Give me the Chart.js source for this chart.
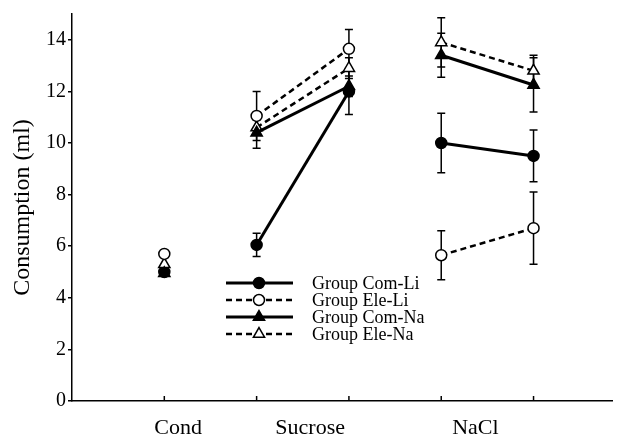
<!DOCTYPE html>
<html>
<head>
<meta charset="utf-8">
<script src="https://cdn.jsdelivr.net/npm/chart.js@4.4.0/dist/chart.umd.min.js"></script>
<style>
  html, body { margin: 0; padding: 0; background: #fff; }
  #wrap { width: 622px; height: 444px; }
</style>
</head>
<body>
<div id="wrap"><canvas id="consumptionChart"></canvas></div>
<script>
// DATA
const positions = [1, 2, 3, 4, 5];
const phaseOf = [0, 1, 1, 2, 2];   // which phase each position belongs to
const groupLabels = ['Cond', 'Sucrose', 'NaCl'];
const groupCenters = [1.15, 2.58, 4.37];
const yTicks = [0, 2, 4, 6, 8, 10, 12, 14];
const seriesNames = ['Group Com-Li', 'Group Ele-Li', 'Group Com-Na', 'Group Ele-Na'];

const comLi = [5.0, 6.05, 12.0, 10.0, 9.5];
const comLiErr = [0, 0.45, 0.9, 1.15, 1.0];
const eleLi = [5.7, 11.05, 13.65, 5.65, 6.7];
const eleLiErr = [0, 0.95, 0.75, 0.95, 1.4];
const comNa = [4.95, 10.4, 12.2, 13.4, 12.25];
const comNaErr = [0, 0.6, 0.4, 0.85, 1.05];
const eleNa = [5.3, 10.6, 12.9, 13.9, 12.8];
const eleNaErr = [0, 0.3, 0.4, 0.95, 0.6];

const serif = 'Liberation Serif';

const toPoints = (vals) => vals.map((v, i) => ({ x: positions[i], y: v }));

const makeSet = (name, vals, errs, style, filled, dashed, order) => ({
    label: name,
    data: toPoints(vals),
    errors: errs,
    order: order,
    borderColor: '#000',
    borderWidth: dashed ? 2.5 : 3,
    borderDash: dashed ? [6, 4] : [],
    pointStyle: style,
    pointRadius: style === 'triangle' ? 6.5 : 5.5,
    pointBorderWidth: 1.5,
    pointBorderColor: '#000',
    pointBackgroundColor: filled ? '#000' : '#fff',
    tension: 0,
    // no line between different phases
    segment: {
        borderColor: c => phaseOf[c.p0DataIndex] !== phaseOf[c.p1DataIndex] ? 'rgba(0,0,0,0)' : undefined
    }
});

// error bars under the markers
const errorBars = {
    id: 'errorBars',
    beforeDatasetsDraw(chart) {
        const { ctx, scales: { x, y } } = chart;
        ctx.save();
        ctx.strokeStyle = '#000';
        ctx.lineWidth = 1.5;
        chart.data.datasets.forEach(ds => {
            ds.data.forEach((p, i) => {
                const e = ds.errors[i];
                if (!e) return;
                const px = x.getPixelForValue(p.x);
                const top = y.getPixelForValue(p.y + e);
                const bot = y.getPixelForValue(p.y - e);
                ctx.beginPath();
                ctx.moveTo(px, top); ctx.lineTo(px, bot);
                ctx.moveTo(px - 4, top); ctx.lineTo(px + 4, top);
                ctx.moveTo(px - 4, bot); ctx.lineTo(px + 4, bot);
                ctx.stroke();
            });
        });
        ctx.restore();
    }
};

// inward tick marks on the x axis + legend box
const extras = {
    id: 'extras',
    afterDraw(chart) {
        const { ctx, scales: { x, y } } = chart;
        const base = y.getPixelForValue(0);
        ctx.save();
        ctx.strokeStyle = '#000';
        ctx.lineWidth = 1.5;
        positions.forEach(p => {
            const px = x.getPixelForValue(p);
            ctx.beginPath();
            ctx.moveTo(px, base);
            ctx.lineTo(px, base - 5);
            ctx.stroke();
        });

        // legend
        const rowY = [283, 300, 317, 334];
        chart.data.datasets.forEach((ds, i) => {
            const ly = rowY[i];
            ctx.strokeStyle = '#000';
            ctx.lineWidth = ds.borderWidth;
            ctx.setLineDash(ds.borderDash);
            ctx.beginPath();
            ctx.moveTo(226, ly);
            ctx.lineTo(293, ly);
            ctx.stroke();
            ctx.setLineDash([]);
            ctx.fillStyle = ds.pointBackgroundColor;
            ctx.lineWidth = ds.pointBorderWidth;
            Chart.helpers.drawPoint(ctx, {
                pointStyle: ds.pointStyle,
                radius: ds.pointRadius,
                rotation: 0,
                borderWidth: ds.pointBorderWidth
            }, 259, ly);
            ctx.fillStyle = '#000';
            ctx.font = '18px "' + serif + '"';
            ctx.textBaseline = 'middle';
            ctx.textAlign = 'left';
            ctx.fillText(ds.label, 312, ly + 1);
        });
        ctx.restore();
    }
};

const ctx = document.getElementById('consumptionChart');
const consumptionChart = new Chart(ctx, {
    type: 'line',
    data: {
        datasets: [
            makeSet(seriesNames[0], comLi, comLiErr, 'circle', true, false, 1),
            makeSet(seriesNames[1], eleLi, eleLiErr, 'circle', false, true, 0),
            makeSet(seriesNames[2], comNa, comNaErr, 'triangle', true, false, 0),
            makeSet(seriesNames[3], eleNa, eleNaErr, 'triangle', false, true, 0)
        ]
    },
    options: {
        responsive: true,
        maintainAspectRatio: false,
        animation: false,
        layout: { padding: { top: 7, right: 10, left: 0, bottom: 0 } },
        plugins: {
            legend: { display: false },
            tooltip: { enabled: false }
        },
        scales: {
            x: {
                type: 'linear',
                min: 0,
                max: 5.85,
                afterBuildTicks: (scale) => {
                    scale.ticks = groupCenters.map(v => ({ value: v }));
                },
                afterFit: (scale) => { scale.height = 43; },
                ticks: {
                    autoSkip: false,
                    maxRotation: 0,
                    padding: 14,
                    color: '#000',
                    font: { family: serif, size: 22 },
                    callback: (v, i) => groupLabels[i]
                },
                grid: { display: true, drawOnChartArea: false, drawTicks: false },
                border: { display: true, color: '#000', width: 1.5 }
            },
            y: {
                min: 0,
                max: 15,
                afterBuildTicks: (scale) => {
                    scale.ticks = yTicks.map(v => ({ value: v }));
                },
                afterFit: (scale) => { scale.width = 72; },
                ticks: {
                    padding: 2,
                    color: '#000',
                    font: { family: serif, size: 20 }
                },
                grid: { drawOnChartArea: false, drawTicks: true, tickLength: 4, color: '#000', lineWidth: 1.5 },
                border: { display: true, color: '#000', width: 1.5 },
                title: {
                    display: true,
                    text: 'Consumption (ml)',
                    color: '#000',
                    font: { family: serif, size: 24 },
                    padding: { top: 8, bottom: 0 }
                }
            }
        }
    },
    plugins: [errorBars, extras]
});
</script>
</body>
</html>
